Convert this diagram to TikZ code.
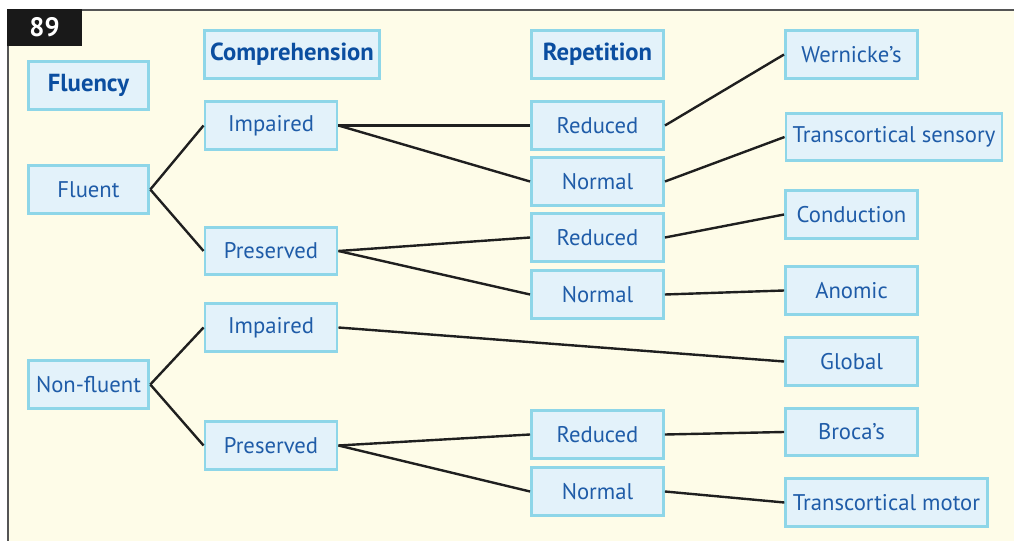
\documentclass[tikz,border=0pt]{standalone}
\usepackage{fontspec}
\setmainfont{PT Sans}
\definecolor{bgcream}{HTML}{FEFCE8}
\definecolor{boxfill}{HTML}{E3F2FA}
\definecolor{boxline}{HTML}{8ED6E8}
\definecolor{txtblue}{HTML}{1F5CA8}
\definecolor{hdrblue}{HTML}{0B4EA0}
\definecolor{frame}{HTML}{555555}
\tikzset{
  box/.style={draw=boxline, fill=boxfill, line width=2.2pt, text=txtblue,
    font=\fontsize{17}{20}\selectfont, minimum height=35.5pt, inner sep=0pt},
  sbox/.style={box, minimum width=99pt},
  fbox/.style={box, minimum width=90.5pt},
  hdr/.style={font=\fontsize{18.5}{21}\selectfont\bfseries, text=hdrblue},
  link/.style={line width=1.8pt, draw=black!88},
}
\begin{document}
\begin{tikzpicture}[x=0.75pt,y=-0.75pt]
\useasboundingbox (0,0) rectangle (1014,541);
\fill[white] (0,0) rectangle (1014,541);
\fill[bgcream] (8,10) rectangle (1014,541);
\draw[frame, line width=1.5pt] (8,541) -- (8,10) -- (1014,10);
\fill[black!90] (7,9) rectangle (82,46);
\node[text=white, font=\fontsize{20}{22}\selectfont\bfseries] (badge) at (44.5,27.5) {89};
% column 1
\node[fbox, hdr] (fluency) at (88.5,85.5) {Fluency};
\node[fbox] (fluent) at (88.5,189.5) {Fluent};
\node[fbox] (nonfluent) at (88.5,384.5) {Non-fluent};
% column 2
\node[box, hdr, minimum width=131pt] (compr) at (292,54.5) {Comprehension};
\node[sbox] (imp1) at (271,125.5) {Impaired};
\node[sbox] (pres1) at (271,251) {Preserved};
\node[sbox] (imp2) at (271,327.5) {Impaired};
\node[sbox] (pres2) at (271,445.5) {Preserved};
% column 3
\node[sbox, hdr] (rep) at (597.5,54.5) {Repetition};
\node[sbox] (red1) at (597.5,125.5) {Reduced};
\node[sbox] (nor1) at (597.5,181.5) {Normal};
\node[sbox] (red2) at (597.5,237.5) {Reduced};
\node[sbox] (nor2) at (597.5,294.5) {Normal};
\node[sbox] (red3) at (597.5,434.5) {Reduced};
\node[sbox] (nor3) at (597.5,491.5) {Normal};
% column 4
\node[sbox] (wern) at (851.5,54.5) {Wernicke’s};
\node[box, minimum width=162pt] (tsens) at (894,137) {Transcortical sensory};
\node[sbox] (cond) at (851.5,214.5) {Conduction};
\node[sbox] (anom) at (851.5,290.5) {Anomic};
\node[sbox] (glob) at (851.5,361.5) {Global};
\node[sbox] (broca) at (851.5,432) {Broca’s};
\node[box, minimum width=151pt] (tmot) at (886.5,502.5) {Transcortical motor};
% connectors
\draw[link] (fluent.east) -- (imp1.west);
\draw[link] (fluent.east) -- (pres1.west);
\draw[link] (nonfluent.east) -- (imp2.west);
\draw[link] (nonfluent.east) -- (pres2.west);
\draw[link] (imp1.east) -- (red1.west);
\draw[link] (imp1.east) -- (nor1.west);
\draw[link] (pres1.east) -- (red2.west);
\draw[link] (pres1.east) -- (nor2.west);
\draw[link] (imp2.east) -- (glob.west);
\draw[link] (pres2.east) -- (red3.west);
\draw[link] (pres2.east) -- (nor3.west);
\draw[link] (red1.east) -- (wern.west);
\draw[link] (nor1.east) -- (tsens.west);
\draw[link] (red2.east) -- (cond.west);
\draw[link] (nor2.east) -- (anom.west);
\draw[link] (red3.east) -- (broca.west);
\draw[link] (nor3.east) -- (tmot.west);
\end{tikzpicture}
\end{document}
